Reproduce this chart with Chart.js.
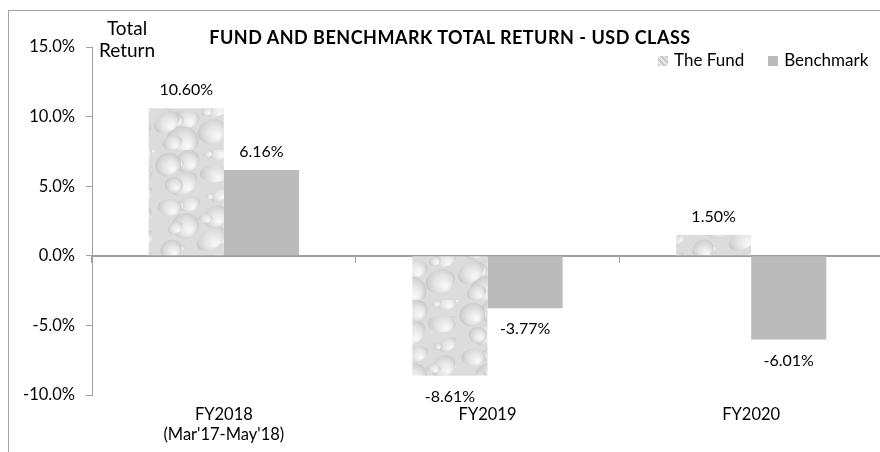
<!DOCTYPE html>
<html>
<head>
<meta charset="utf-8">
<script src="https://cdn.jsdelivr.net/npm/chart.js@4.4.0/dist/chart.umd.min.js"></script>
<style>
    body { margin: 0; overflow: hidden; background: #fff; font-family: Lato, 'Open Sans', sans-serif; color: #000; }
    #wrap { position: relative; width: 883px; height: 452px; }
    #frame { position: absolute; left: 8px; top: 10px; width: 920px; height: 480px; border: 1px solid #a6a6a6; pointer-events: none; }
    #title { position: absolute; left: 0; width: 900px; top: 26px; text-align: center; font-weight: bold; font-size: 18px; letter-spacing: 0.5px; }
    #ytitle { position: absolute; left: 91px; top: 17px; width: 72px; text-align: center; font-size: 19px; line-height: 22px; }
    #legend { position: absolute; left: 658px; top: 49px; font-size: 17px; display: flex; gap: 24px; }
    #legend span.sw { display: inline-block; width: 10px; height: 10px; margin-right: 6px; vertical-align: 0; }
    canvas { position: absolute; left: 0; top: 0; }
</style>
</head>
<body>
<div id="wrap">
    <canvas id="chart"></canvas>
    <div id="frame"></div>
    <div id="title">FUND AND BENCHMARK TOTAL RETURN - USD CLASS</div>
    <div id="ytitle">Total<br>Return</div>
    <div id="legend"></div>
</div>
<script>
// 年度ラベル
const categories = [['FY2018', "(Mar'17-May'18)"], 'FY2019', 'FY2020'];
// リターン (%)
const fundReturns = [10.60, -8.61, 1.50];
const benchmarkReturns = [6.16, -3.77, -6.01];
const seriesNames = ['The Fund', 'Benchmark'];
// 縦軸
const yMin = -10;
const yMax = 15;
const yStep = 5;

const axisGray = '#a0a0a0';
const benchGray = '#bbbbbb';

// 水滴っぽいテクスチャ（ファンド側）
function makeDropPattern() {
    const c = document.createElement('canvas');
    c.width = 76;
    c.height = 150;
    const g = c.getContext('2d');
    g.fillStyle = '#dcdcdc';
    g.fillRect(0, 0, c.width, c.height);
    for (let i = 0; i < 34; i++) {
        const x = (i * 37.3) % 76;
        const y = (i * 53.7) % 150;
        const r = 4 + ((i * 7) % 13);
        const grd = g.createRadialGradient(x + r * 0.35, y + r * 0.35, r * 0.1, x, y, r);
        grd.addColorStop(0, '#f7f7f7');
        grd.addColorStop(0.5, '#e4e4e4');
        grd.addColorStop(0.85, '#d2d2d2');
        grd.addColorStop(1, '#c6c6c6');
        g.fillStyle = grd;
        g.beginPath();
        g.ellipse(x, y, r, r * (0.6 + (i % 4) * 0.1), -0.6 + (i % 3) * 0.3, 0, Math.PI * 2);
        g.fill();
    }
    return g.createPattern(c, 'repeat');
}

const ctx = document.getElementById('chart').getContext('2d');
const fundFill = makeDropPattern();

const valueLabels = {
    id: 'valueLabels',
    afterDatasetsDraw(chart) {
        const c = chart.ctx;
        c.save();
        c.font = '16px Lato, sans-serif';
        c.fillStyle = '#000';
        c.textAlign = 'center';
        c.textBaseline = 'middle';
        chart.data.datasets.forEach((ds, di) => {
            chart.getDatasetMeta(di).data.forEach((bar, i) => {
                const v = ds.data[i];
                const y = v >= 0 ? bar.y - 18 : bar.y + 21;
                c.fillText(v.toFixed(2) + '%', bar.x, y);
            });
        });
        c.restore();
    },
};

new Chart(ctx, {
    type: 'bar',
    data: {
        labels: categories,
        datasets: [
            { label: seriesNames[0], data: fundReturns, backgroundColor: fundFill, borderWidth: 0 },
            { label: seriesNames[1], data: benchmarkReturns, backgroundColor: benchGray, borderWidth: 0 },
        ],
    },
    options: {
        responsive: true,
        maintainAspectRatio: false,
        animation: false,
        layout: { padding: { top: 47, left: 8, right: 0, bottom: 0 } },
        datasets: { bar: { categoryPercentage: 0.57, barPercentage: 1.0 } },
        plugins: {
            legend: { display: false },
            tooltip: { enabled: false },
        },
        scales: {
            x: {
                type: 'category',
                grid: { display: false },
                border: { display: false },
                ticks: { color: '#000', font: { family: 'Lato', size: 16.5 }, padding: 2, maxRotation: 0 },
                afterFit(scale) { scale.height = 57; },
            },
            x2: {
                type: 'category',
                position: { y: 0 },
                grid: { offset: true, drawOnChartArea: false, tickLength: 6, color: axisGray, lineWidth: 1 },
                border: { color: axisGray, width: 2 },
                ticks: { display: false },
            },
            y: {
                min: yMin,
                max: yMax,
                ticks: {
                    stepSize: yStep,
                    color: '#000',
                    padding: 11,
                    font: { family: 'Lato', size: 16.5 },
                    callback: (v) => v.toFixed(1) + '%',
                },
                grid: { drawOnChartArea: false, tickLength: 6, color: axisGray },
                border: { color: axisGray },
                afterFit(scale) { scale.width = 84; },
            },
        },
    },
    plugins: [valueLabels],
});

// 凡例
const legendEl = document.getElementById('legend');
const swatches = ['repeating-linear-gradient(45deg,#c8c8c8 0 2px,#e8e8e8 2px 4px)', benchGray];
seriesNames.forEach((name, i) => {
    const item = document.createElement('div');
    item.innerHTML = `<span class="sw" style="background:${swatches[i]}"></span>${name}`;
    legendEl.appendChild(item);
});
</script>
</body>
</html>
